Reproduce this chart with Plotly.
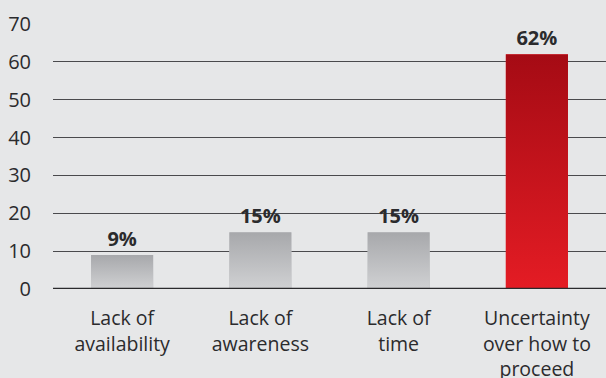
import plotly.graph_objects as go

# Survey results: main barrier, share of respondents (%)
categories = ["Lack of<br>availability", "Lack of<br>awareness", "Lack of<br>time",
              "Uncertainty<br>over how to<br>proceed"]
values = [9, 15, 15, 62]
highlight = [False, False, False, True]
y_ticks = [0, 10, 20, 30, 40, 50, 60, 70]

BAR_WIDTH = 0.45
FONT = "Open Sans"
TEXT = "#2b2b2d"
BG = "#e6e7e8"


def gradient_svg(top, bottom):
    svg = (
        "<svg xmlns='http://www.w3.org/2000/svg' width='10' height='100' preserveAspectRatio='none'>"
        "<defs><linearGradient id='g' x1='0' y1='0' x2='0' y2='1'>"
        f"<stop offset='0' stop-color='{top}'/><stop offset='1' stop-color='{bottom}'/>"
        "</linearGradient></defs><rect width='10' height='100' fill='url(#g)'/></svg>"
    )
    return "data:image/svg+xml;utf8," + svg.replace("#", "%23").replace("<", "%3C").replace(">", "%3E")


GREY = gradient_svg("#a7a8ab", "#d0d1d3")
RED = gradient_svg("#a50b14", "#e41c24")

fig = go.Figure(
    go.Bar(
        x=categories,
        y=values,
        width=BAR_WIDTH,
        marker=dict(color=["#e41c24" if h else "#bdbec0" for h in highlight], line=dict(width=0)),
        text=[f"<b>{v}%</b>" for v in values],
        textposition="outside",
        textfont=dict(family=FONT, size=20, color=TEXT),
        cliponaxis=False,
        hoverinfo="skip",
    )
)

# gradient fill laid over each bar, positioned in data coordinates
for cat, val, hl in zip(categories, values, highlight):
    fig.add_layout_image(
        source=RED if hl else GREY,
        xref="x", yref="y",
        x=cat, y=val,
        sizex=BAR_WIDTH, sizey=val,
        xanchor="center", yanchor="top",
        sizing="stretch", layer="above",
    )

# baseline drawn on top of the bars
fig.add_shape(type="line", xref="paper", yref="y", x0=0, x1=1, y0=0, y1=0,
              line=dict(color="#2a2a2c", width=2.5), layer="above")

fig.update_layout(
    width=606, height=378,
    margin=dict(l=53, r=0, t=24, b=89),
    paper_bgcolor=BG, plot_bgcolor=BG,
    showlegend=False,
    bargap=0.55,
    font=dict(family=FONT, size=20, color=TEXT),
    xaxis=dict(
        automargin=False,
        showgrid=False, showline=False, zeroline=False,
        ticks="outside", ticklen=12, tickcolor="rgba(0,0,0,0)",
        tickfont=dict(family=FONT, size=19.5, color=TEXT),
    ),
    yaxis=dict(
        automargin=False,
        range=[0, 70],
        tickvals=y_ticks,
        showgrid=True, gridcolor="#4a4a4d", gridwidth=1.3,
        zeroline=False, showline=False,
        ticks="outside", ticklen=17, tickcolor="rgba(0,0,0,0)",
        tickfont=dict(family=FONT, size=20, color=TEXT),
    ),
)

fig.write_html("out.html")
